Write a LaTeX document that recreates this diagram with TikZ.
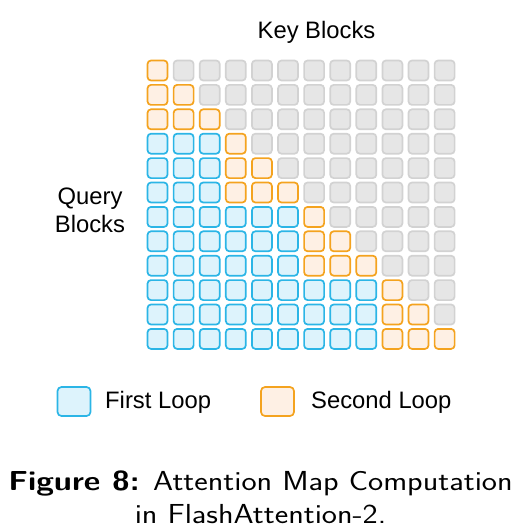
\documentclass[tikz,border=0pt]{standalone}
\usepackage{fontspec}
\newfontfamily\labfont{Liberation Sans}
\definecolor{bluebd}{HTML}{2BB5E6}
\definecolor{bluefl}{HTML}{DDF3FC}
\definecolor{orgbd}{HTML}{F4A31F}
\definecolor{orgfl}{HTML}{FEF0E4}
\definecolor{graybd}{HTML}{D2D2D2}
\definecolor{grayfl}{HTML}{E6E6E6}
\tikzset{
  cell/.style={minimum width=20pt,minimum height=20pt,inner sep=0pt,line width=1.7pt,rounded corners=3.5pt},
  bluecell/.style={cell,draw=bluebd,fill=bluefl},
  orgcell/.style={cell,draw=orgbd,fill=orgfl},
  graycell/.style={cell,draw=graybd,fill=grayfl},
  legbox/.style={minimum width=33pt,minimum height=29pt,inner sep=0pt,line width=1.7pt,rounded corners=4pt},
  lab/.style={font=\labfont\fontsize{23.8}{28}\selectfont,inner sep=0pt,text=black}
}
\begin{document}
\begin{tikzpicture}[x=1pt,y=-1pt]
\useasboundingbox (0,0) rectangle (521,532);
\foreach \r in {0,...,11}{
  \foreach \c in {0,...,11}{
    \pgfmathtruncatemacro{\g}{3*floor(\r/3)}
    \pgfmathtruncatemacro{\k}{mod(\r,3)}
    \pgfmathtruncatemacro{\hi}{\g+\k}
    \ifnum\c<\g
      \def\sty{bluecell}
    \else\ifnum\c>\hi
      \def\sty{graycell}
    \else
      \def\sty{orgcell}
    \fi\fi
    \node[\sty] (c-\r-\c) at ({157.5+26.1*\c},{70.5+24.4*\r}) {};
  }
}
\node[lab] (key) at (316.5,32) {Key Blocks};
\node[lab,align=center] (query) at (90,210) {Query\\[0pt]Blocks};
\node[legbox,draw=bluebd,fill=bluefl] (leg1) at (74,401.5) {};
\node[lab,anchor=west] (leg1t) at (105,402) {First Loop};
\node[legbox,draw=orgbd,fill=orgfl] (leg2) at (277.5,401.5) {};
\node[lab,anchor=west] (leg2t) at (311,402) {Second Loop};
\node[inner sep=0pt] (cap) at (260.5,500)
  {\scalebox{1.17}[1]{\sffamily\fontsize{27.5}{33}\selectfont\begin{tabular}{@{}c@{}}\textbf{Figure 8:} Attention Map Computation\\in FlashAttention-2.\end{tabular}}};
\end{tikzpicture}
\end{document}
